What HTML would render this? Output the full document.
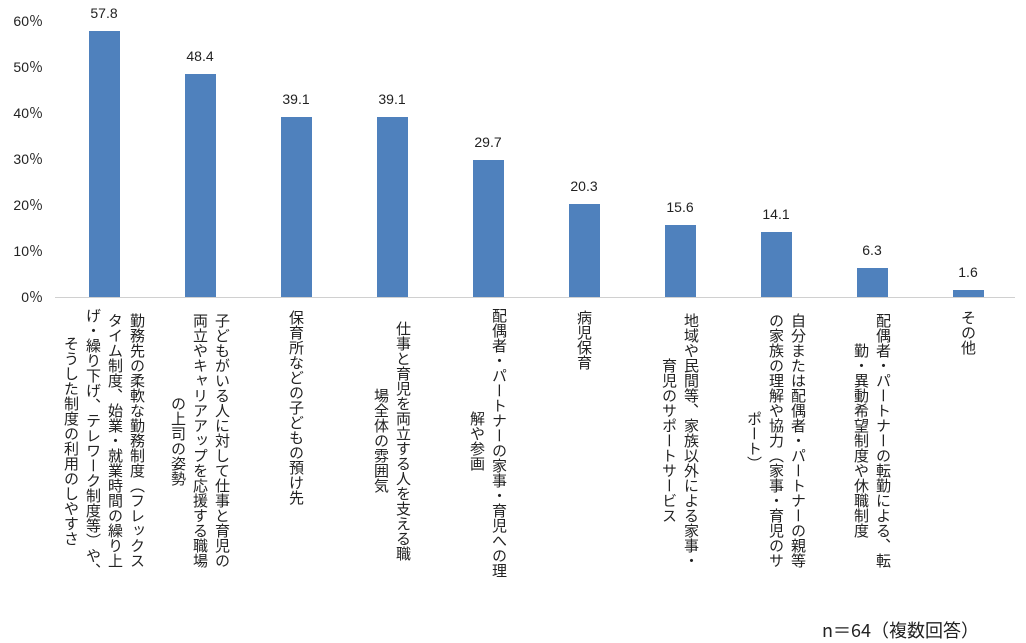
<!DOCTYPE html>
<html><head><meta charset="utf-8"><style>
body{margin:0;width:1026px;height:643px;background:#fff;position:relative;overflow:hidden;font-family:"Liberation Sans","Noto Sans CJK JP",sans-serif;color:#222}
.yl{position:absolute;right:983px;font-size:14px;line-height:16px;transform:translateY(-8px);white-space:nowrap}
.bar{position:absolute;width:31px;background:#4f81bd}
.v{position:absolute;width:60px;text-align:center;font-size:14px}
.lab{position:absolute;top:308px;height:265px;writing-mode:vertical-rl;text-align:center;font-size:15px;line-height:22px;font-family:"Noto Sans CJK JP",sans-serif;white-space:nowrap}
</style></head><body>
<div class="yl" style="top:21px">60％</div>
<div class="yl" style="top:67px">50％</div>
<div class="yl" style="top:113px">40％</div>
<div class="yl" style="top:159px">30％</div>
<div class="yl" style="top:205px">20％</div>
<div class="yl" style="top:251px">10％</div>
<div class="yl" style="top:297px">0％</div>
<div style="position:absolute;left:55px;top:297px;width:960px;height:1px;background:#d0d0d0"></div>

<div class="bar" style="left:89px;top:31px;height:266px"></div>
<div class="bar" style="left:185px;top:74px;height:223px"></div>
<div class="bar" style="left:281px;top:117px;height:180px"></div>
<div class="bar" style="left:377px;top:117px;height:180px"></div>
<div class="bar" style="left:473px;top:160px;height:137px"></div>
<div class="bar" style="left:569px;top:204px;height:93px"></div>
<div class="bar" style="left:665px;top:225px;height:72px"></div>
<div class="bar" style="left:761px;top:232px;height:65px"></div>
<div class="bar" style="left:857px;top:268px;height:29px"></div>
<div class="bar" style="left:953px;top:290px;height:7px"></div>

<div class="v" style="left:74px;top:5px">57.8</div>
<div class="v" style="left:170px;top:48px">48.4</div>
<div class="v" style="left:266px;top:91px">39.1</div>
<div class="v" style="left:362px;top:91px">39.1</div>
<div class="v" style="left:458px;top:134px">29.7</div>
<div class="v" style="left:554px;top:178px">20.3</div>
<div class="v" style="left:650px;top:199px">15.6</div>
<div class="v" style="left:746px;top:206px">14.1</div>
<div class="v" style="left:842px;top:242px">6.3</div>
<div class="v" style="left:938px;top:264px">1.6</div>

<div class="lab" style="left:60px">勤務先の柔軟な勤務制度（フレックス<br>タイム制度、始業・就業時間の繰り上<br>げ・繰り下げ、テレワーク制度等）や、<br>そうした制度の利用のしやすさ</div>
<div class="lab" style="left:167px">子どもがいる人に対して仕事と育児の<br>両立やキャリアアップを応援する職場<br>の上司の姿勢</div>
<div class="lab" style="left:285px;top:310px;text-align:start">保育所などの子どもの預け先</div>
<div class="lab" style="left:370px">仕事と育児を両立する人を支える職<br>場全体の雰囲気</div>
<div class="lab" style="left:466px">配偶者・パートナーの家事・育児への理<br>解や参画</div>
<div class="lab" style="left:573px;top:310px;text-align:start">病児保育</div>
<div class="lab" style="left:658px">地域や民間等、家族以外による家事・<br>育児のサポートサービス</div>
<div class="lab" style="left:743px">自分または配偶者・パートナーの親等<br>の家族の理解や協力（家事・育児のサ<br>ポート）</div>
<div class="lab" style="left:850px">配偶者・パートナーの転勤による、転<br>勤・異動希望制度や休職制度</div>
<div class="lab" style="left:957px;top:310px;text-align:start">その他</div>

<div style="position:absolute;left:822px;top:617px;font-size:18px;font-family:'Noto Sans CJK JP',sans-serif;white-space:nowrap">n＝64（複数回答）</div>
</body></html>
